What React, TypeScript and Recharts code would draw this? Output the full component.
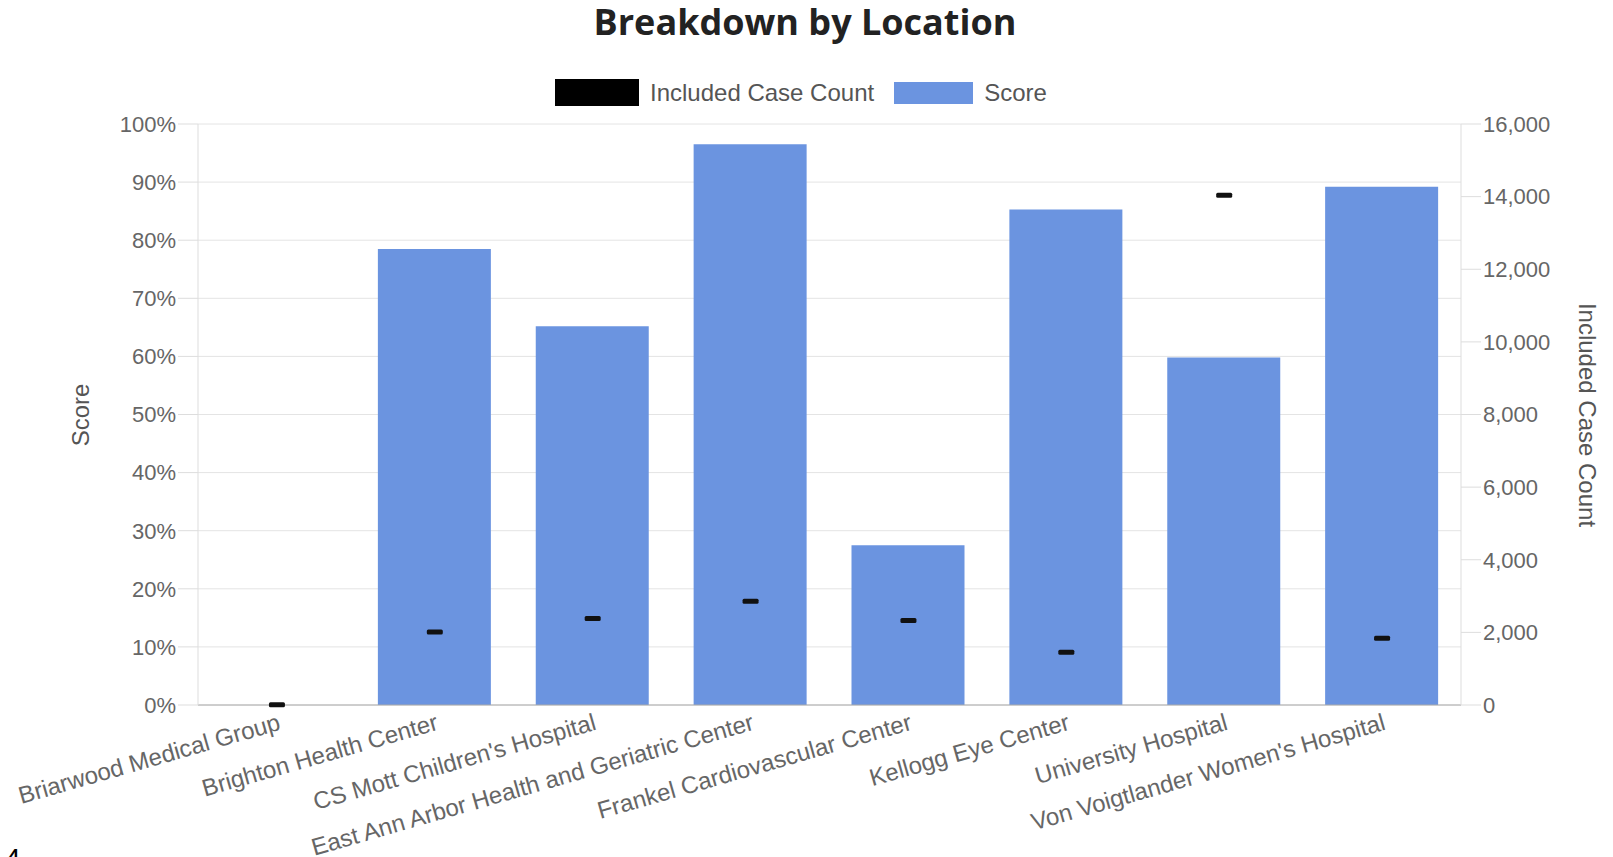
import { Bar, ComposedChart, Label, Line, XAxis, YAxis, CartesianGrid } from "recharts";

const locations = [
  "Briarwood Medical Group",
  "Brighton Health Center",
  "CS Mott Children's Hospital",
  "East Ann Arbor Health and Geriatric Center",
  "Frankel Cardiovascular Center",
  "Kellogg Eye Center",
  "University Hospital",
  "Von Voigtlander Women's Hospital",
];
const scores = [0, 78.5, 65.2, 96.5, 27.5, 85.3, 59.8, 89.2];
const caseCounts = [10, 2010, 2380, 2860, 2330, 1450, 14040, 1840];
const scoreTicks = [0, 10, 20, 30, 40, 50, 60, 70, 80, 90, 100];
const countTicks = [0, 2000, 4000, 6000, 8000, 10000, 12000, 14000, 16000];

const data = locations.map((name, i) => ({
  name,
  score: scores[i],
  count: caseCounts[i],
}));

const FONT = "Arial, 'Liberation Sans', sans-serif";
const tickStyle = { fill: "#666", fontSize: 22, fontFamily: FONT };

// short black dash for the case count points
function CountMark(props: any) {
  const { cx, cy, index } = props;
  if (cx == null || cy == null) return <g key={`m-${index}`} />;
  return (
    <rect key={`m-${index}`} x={cx - 8} y={cy - 2.5} width={16} height={5} rx={1.5} fill="#111" />
  );
}

function LegendBox() {
  const item = (color: string, text: string, w: number, h: number) => (
    <div style={{ display: "flex", alignItems: "center", marginRight: 20 }}>
      <div style={{ width: w, height: h, background: color, marginRight: 11 }} />
      <span style={{ color: "#555", fontSize: 24, fontFamily: FONT }}>{text}</span>
    </div>
  );
  return (
    <div
      style={{
        position: "absolute",
        left: 555,
        top: 79,
        height: 27,
        display: "flex",
        alignItems: "center",
      }}
    >
      {item("#000", "Included Case Count", 84, 27)}
      {item("#6b94e0", "Score", 79, 22)}
    </div>
  );
}

export default function App() {
  return (
    <div style={{ position: "absolute", left: 0, top: 0, width: 1613, height: 857, background: "#fff", overflow: "hidden" }}>
      <div
        style={{
          position: "absolute",
          left: 0,
          width: 1610,
          top: 0,
          lineHeight: "44px",
          textAlign: "center",
          fontFamily: "'Open Sans', sans-serif",
          fontWeight: 700,
          fontSize: 36,
          color: "#222",
        }}
      >
        Breakdown by Location
      </div>
      <LegendBox />
      <ComposedChart
        width={1613}
        height={857}
        data={data}
        margin={{ top: 124, right: 0, bottom: 0, left: 0 }}
      >
        <CartesianGrid yAxisId="left" vertical={false} stroke="#e4e4e4" />
        <XAxis
          dataKey="name"
          height={152}
          interval={0}
          tickLine={false}
          axisLine={{ stroke: "#aaa" }}
          angle={-16}
          textAnchor="end"
          tick={{ fill: "#666", fontSize: 24, fontFamily: FONT }}
        />
        <YAxis
          yAxisId="left"
          width={198}
          domain={[0, 100]}
          ticks={scoreTicks}
          tickFormatter={(v: number) => `${v}%`}
          tick={tickStyle}
          tickSize={20}
          tickLine={{ stroke: "#ddd" }}
          axisLine={{ stroke: "#ddd" }}
        >
          <Label
            content={() => (
              <text
                x={80}
                y={415}
                transform="rotate(-90 80 415)"
                textAnchor="middle"
                dominantBaseline="central"
                fill="#555"
                fontSize={24}
                fontFamily={FONT}
              >
                Score
              </text>
            )}
          />
        </YAxis>
        <YAxis
          yAxisId="right"
          orientation="right"
          width={152}
          domain={[0, 16000]}
          ticks={countTicks}
          tickFormatter={(v: number) => v.toLocaleString("en-US")}
          tick={tickStyle}
          tickSize={20}
          tickLine={{ stroke: "#ddd" }}
          axisLine={{ stroke: "#ddd" }}
        >
          <Label
            content={() => (
              <text
                x={1587}
                y={415}
                transform="rotate(90 1587 415)"
                textAnchor="middle"
                dominantBaseline="central"
                fill="#555"
                fontSize={24}
                fontFamily={FONT}
              >
                Included Case Count
              </text>
            )}
          />
        </YAxis>
        <Bar yAxisId="left" dataKey="score" fill="#6b94e0" barSize={113} isAnimationActive={false} />
        <Line
          yAxisId="right"
          dataKey="count"
          stroke="none"
          dot={CountMark}
          activeDot={false}
          isAnimationActive={false}
        />
      </ComposedChart>
      <div style={{ position: "absolute", left: 5, top: 843, fontSize: 28, fontFamily: FONT, color: "#000" }}>4</div>
    </div>
  );
}
